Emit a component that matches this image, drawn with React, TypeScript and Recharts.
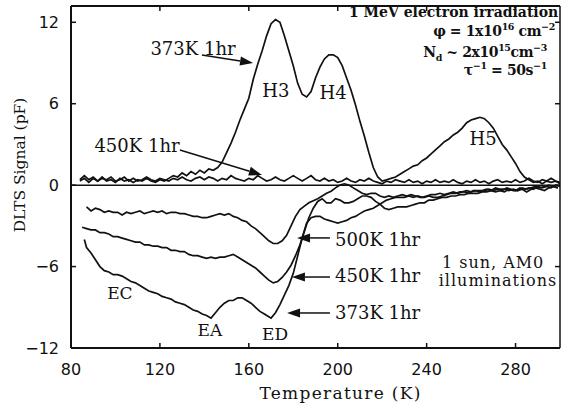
import { LineChart, Line, XAxis, YAxis, ReferenceLine, ReferenceDot, Label } from "recharts"

const xTicks = [80, 120, 160, 200, 240, 280]
const yTicks = [-12, -6, 0, 6, 12]

// after 1 MeV electron irradiation, hole traps H3 / H4 / H5 (T in K, signal in pF)
const hole373: [number, number][] = [
  [84, 0.3], [86, 0.5], [88, 0.2], [90, 0.5], [92, 0.3], [94, 0.6], [96, 0.3], [98, 0.4], [100, 0.2],
  [102, 0.5], [104, 0.3], [106, 0.4], [108, 0.2], [110, 0.4], [112, 0.3], [114, 0.5], [116, 0.3],
  [118, 0.2], [120, 0.4], [122, 0.3], [124, 0.5], [126, 0.7], [128, 0.6], [130, 0.9], [132, 0.7],
  [134, 1.0], [136, 0.8], [138, 1.1], [140, 0.9], [142, 1.2], [144, 1.1], [146, 1.3], [148, 1.7],
  [150, 2.4], [152, 3.1], [154, 3.9], [156, 4.8], [158, 5.6], [160, 6.4], [162, 7.8], [164, 8.9],
  [166, 9.9], [168, 11.0], [170, 11.9], [172, 12.2], [174, 12.0], [176, 11.0], [178, 9.9], [180, 8.8],
  [182, 7.5], [184, 6.7], [186, 6.5], [188, 6.9], [190, 7.9], [192, 8.7], [194, 9.3], [196, 9.6],
  [198, 9.6], [200, 9.4], [202, 8.8], [204, 7.9], [206, 7.0], [208, 5.9], [210, 4.7], [212, 3.6],
  [214, 2.4], [216, 1.3], [218, 0.6], [220, 0.3], [222, 0.4], [224, 0.5], [226, 0.6], [228, 0.8],
  [230, 1.0], [232, 1.2], [234, 1.4], [236, 1.5], [238, 1.8], [240, 2.0], [242, 2.3], [244, 2.6],
  [246, 2.9], [248, 3.2], [250, 3.4], [252, 3.7], [254, 3.9], [256, 4.2], [258, 4.6], [260, 4.8],
  [262, 4.9], [264, 5.0], [266, 4.9], [268, 4.6], [270, 4.2], [272, 3.6], [274, 3.0], [276, 2.6],
  [278, 2.1], [280, 1.6], [282, 1.0], [284, 0.6], [286, 0.4], [288, 0.2], [290, 0.3], [292, 0.1],
  [294, 0.3], [296, 0.2], [298, 0.3], [300, 0.1],
]

const hole450: [number, number][] = [
  [84, 0.4], [86, 0.7], [88, 0.4], [90, 0.6], [92, 0.3], [94, 0.5], [96, 0.4], [98, 0.6], [100, 0.3],
  [102, 0.4], [104, 0.6], [106, 0.3], [108, 0.5], [110, 0.3], [112, 0.4], [114, 0.6], [116, 0.4],
  [118, 0.3], [120, 0.5], [122, 0.4], [124, 0.3], [126, 0.5], [128, 0.4], [130, 0.6], [132, 0.4],
  [134, 0.3], [136, 0.5], [138, 0.6], [140, 0.4], [142, 0.6], [144, 0.5], [146, 0.3], [148, 0.5],
  [150, 0.4], [152, 0.7], [154, 0.5], [156, 0.4], [158, 0.3], [160, 0.5], [162, 0.4], [164, 0.7],
  [166, 0.5], [168, 0.3], [170, 0.4], [172, 0.6], [174, 0.4], [176, 0.3], [178, 0.5], [180, 0.7],
  [182, 0.5], [184, 0.3], [186, 0.5], [188, 0.7], [190, 0.4], [192, 0.3], [194, 0.5], [196, 0.3],
  [198, 0.4], [200, 0.2], [202, 0.3], [204, 0.5], [206, 0.3], [208, 0.2], [210, 0.4], [212, 0.3],
  [214, 0.5], [216, 0.3], [218, 0.2], [220, 0.1], [222, 0.3], [224, 0.2], [226, 0.4], [228, 0.3],
  [230, 0.2], [232, 0.4], [234, 0.2], [236, 0.3], [238, 0.1], [240, 0.3], [242, 0.2], [244, 0.4],
  [246, 0.2], [248, 0.3], [250, 0.2], [252, 0.4], [254, 0.2], [256, 0.1], [258, 0.3], [260, 0.2],
  [262, 0.4], [264, 0.2], [266, 0.3], [268, 0.1], [270, 0.3], [272, 0.4], [274, 0.2], [276, 0.3],
  [278, 0.2], [280, 0.4], [282, 0.2], [284, 0.3], [286, 0.5], [288, 0.3], [290, 0.2], [292, 0.4],
  [294, 0.3], [296, 0.5], [298, 0.3], [300, 0.2],
]

// under 1 sun AM0 illumination, electron traps EC / EA / ED
const elec500: [number, number][] = [
  [87, -1.6], [89, -1.9], [91, -1.7], [93, -1.8], [95, -2.0], [97, -1.9], [99, -2.0], [101, -2.0],
  [103, -2.2], [105, -2.0], [107, -2.1], [109, -2.0], [111, -1.9], [113, -2.1], [115, -2.0], [117, -1.9],
  [119, -2.0], [121, -1.9], [123, -2.1], [125, -2.0], [127, -2.0], [129, -2.1], [131, -2.1], [133, -2.2],
  [135, -2.3], [137, -2.3], [139, -2.4], [141, -2.4], [143, -2.3], [145, -2.2], [147, -2.1], [149, -2.2],
  [151, -2.1], [153, -2.3], [155, -2.4], [157, -2.6], [159, -2.7], [161, -3.0], [163, -3.2], [165, -3.5],
  [167, -3.8], [169, -4.1], [171, -4.3], [173, -4.3], [175, -4.1], [177, -3.7], [179, -3.0], [181, -2.3],
  [183, -1.8], [185, -1.55], [187, -1.3], [189, -1.15], [191, -1.0], [193, -0.8], [195, -0.6], [197, -0.45],
  [199, -0.2], [201, 0.0], [203, 0.1], [205, 0.0], [207, -0.2], [209, -0.4], [211, -0.6], [213, -0.7],
  [215, -0.6], [217, -0.6], [219, -0.8], [221, -0.9], [223, -0.8], [225, -0.9], [227, -0.8], [229, -0.7],
  [231, -0.8], [233, -0.7], [235, -0.8], [237, -0.9], [239, -0.9], [241, -0.8], [243, -0.9], [245, -0.9],
  [247, -0.8], [249, -0.7], [251, -0.6], [253, -0.6], [255, -0.5], [257, -0.5], [259, -0.6], [261, -0.4],
  [263, -0.4], [265, -0.4], [267, -0.3], [269, -0.4], [271, -0.2], [273, -0.3], [275, -0.3], [277, -0.4],
  [279, -0.3], [281, -0.4], [283, -0.2], [285, -0.3], [287, -0.2], [289, -0.1], [291, -0.2], [293, -0.1],
  [295, 0.0], [297, -0.1], [299, -0.2],
]

const elec450: [number, number][] = [
  [85, -3.1], [87, -3.2], [89, -3.3], [91, -3.3], [93, -3.5], [95, -3.5], [97, -3.6], [99, -3.8],
  [101, -3.8], [103, -3.9], [105, -4.0], [107, -4.1], [109, -4.2], [111, -4.2], [113, -4.4], [115, -4.4],
  [117, -4.5], [119, -4.5], [121, -4.6], [123, -4.6], [125, -4.8], [127, -4.8], [129, -4.9], [131, -4.9],
  [133, -5.1], [135, -5.2], [137, -5.2], [139, -5.3], [141, -5.4], [143, -5.3], [145, -5.4], [147, -5.3],
  [149, -5.3], [151, -5.2], [153, -5.1], [155, -5.3], [157, -5.5], [159, -5.7], [161, -5.9], [163, -6.1],
  [165, -6.4], [167, -6.7], [169, -7.0], [171, -7.2], [173, -7.1], [175, -6.8], [177, -6.4], [179, -5.9],
  [181, -5.2], [183, -4.4], [185, -3.4], [187, -2.4], [189, -1.7], [191, -1.2], [193, -1.0], [195, -1.3],
  [197, -1.3], [199, -1.0], [201, -1.1], [203, -1.3], [205, -1.3], [207, -1.2], [209, -1.0], [211, -0.8],
  [213, -0.8], [215, -0.9], [217, -1.2], [219, -1.4], [221, -1.7], [223, -1.8], [225, -1.7], [227, -1.6],
  [229, -1.6], [231, -1.6], [233, -1.5], [235, -1.4], [237, -1.3], [239, -1.3], [241, -1.1], [243, -1.1],
  [245, -1.0], [247, -0.9], [249, -0.9], [251, -0.8], [253, -0.8], [255, -0.7], [257, -0.7], [259, -0.6],
  [261, -0.6], [263, -0.6], [265, -0.5], [267, -0.5], [269, -0.4], [271, -0.5], [273, -0.4], [275, -0.5],
  [277, -0.3], [279, -0.4], [281, -0.4], [283, -0.3], [285, -0.5], [287, -0.3], [289, -0.2], [291, -0.3],
  [293, -0.4], [295, -0.2], [297, -0.1], [299, -0.2],
]

const elec373: [number, number][] = [
  [86, -4.0], [87, -4.6], [89, -5.0], [91, -5.5], [93, -6.0], [95, -6.3], [97, -6.4], [99, -6.6],
  [101, -6.6], [103, -6.7], [105, -6.9], [107, -7.1], [109, -7.2], [111, -7.4], [113, -7.6], [115, -7.8],
  [117, -7.9], [119, -8.0], [121, -8.2], [123, -8.3], [125, -8.4], [127, -8.6], [129, -8.7], [131, -8.8],
  [133, -9.0], [135, -9.2], [137, -9.3], [139, -9.5], [141, -9.6], [143, -9.8], [145, -9.4], [147, -9.0],
  [149, -8.7], [151, -8.5], [153, -8.5], [155, -8.3], [157, -8.3], [159, -8.5], [161, -8.7], [163, -9.0],
  [165, -9.3], [167, -9.5], [169, -9.7], [170, -9.8], [172, -9.4], [174, -8.8], [176, -8.1], [178, -7.4],
  [180, -6.5], [182, -5.2], [184, -3.9], [186, -2.8], [188, -2.4], [190, -2.3], [192, -2.3], [194, -2.5],
  [196, -2.6], [198, -2.7], [200, -2.8], [202, -2.7], [204, -2.6], [206, -2.4], [208, -2.3], [210, -2.1],
  [212, -1.9], [214, -1.8], [216, -1.7], [218, -1.5], [220, -1.3], [222, -1.1], [224, -1.0], [226, -0.9],
  [228, -0.9], [230, -0.9], [232, -0.8], [234, -0.9], [236, -0.8], [238, -0.9], [240, -0.8], [242, -0.7],
  [244, -0.7], [246, -0.6], [248, -0.7], [250, -0.6], [252, -0.5], [254, -0.6], [256, -0.5], [258, -0.4],
  [260, -0.5], [262, -0.4], [264, -0.5], [266, -0.4], [268, -0.3], [270, -0.4], [272, -0.3], [274, -0.4],
  [276, -0.2], [278, -0.3], [280, -0.4], [282, -0.2], [284, -0.3], [286, -0.2], [288, -0.3], [290, -0.1],
  [292, -0.2], [294, -0.1], [296, -0.2], [298, 0.0], [300, -0.1],
]

const allSeries = [
  { name: "373K 1hr", pts: hole373 },
  { name: "450K 1hr", pts: hole450 },
  { name: "500K 1hr illum", pts: elec500 },
  { name: "450K 1hr illum", pts: elec450 },
  { name: "373K 1hr illum", pts: elec373 },
]

// text labels placed in data coordinates
const notes = [
  { text: "373K 1hr", t: 134.9, v: 10.1, anchor: "middle", size: 18 },
  { text: "450K 1hr", t: 109.7, v: 2.9, anchor: "middle", size: 18 },
  { text: "H3", t: 172.2, v: 7.0, anchor: "middle", size: 18 },
  { text: "H4", t: 197.9, v: 6.86, anchor: "middle", size: 18 },
  { text: "H5", t: 265.4, v: 3.4, anchor: "middle", size: 18 },
  { text: "EC", t: 102, v: -7.95, anchor: "middle", size: 17 },
  { text: "EA", t: 142.5, v: -10.67, anchor: "middle", size: 17 },
  { text: "ED", t: 171.8, v: -10.97, anchor: "middle", size: 17 },
  { text: "500K 1hr", t: 198.8, v: -4.0, anchor: "start", size: 18 },
  { text: "450K 1hr", t: 198.8, v: -6.69, anchor: "start", size: 18 },
  { text: "373K 1hr", t: 198.8, v: -9.35, anchor: "start", size: 18 },
  { text: "1 sun, AM0", t: 269.9, v: -5.66, anchor: "middle", size: 16 },
  { text: "illuminations", t: 272.1, v: -6.99, anchor: "middle", size: 16 },
]

const arrows = [
  { from: [138.9, 9.59], to: [161.9, 9.0] },
  { from: [129.0, 2.59], to: [165.9, 0.75] },
  { from: [196.5, -3.89], to: [181.7, -3.89] },
  { from: [196.5, -6.77], to: [179.4, -6.77] },
  { from: [196.5, -9.42], to: [177.2, -9.42] },
]

type Seg = { s: string; k?: "sup" | "sub" }
const conditions: { segs: Seg[]; t: number; v: number }[] = [
  { segs: [{ s: "1 MeV electron irradiation" }], t: 299.2, v: 12.39 },
  { segs: [{ s: "φ = 1x10" }, { s: "16", k: "sup" }, { s: " cm" }, { s: "−2", k: "sup" }], t: 297.7, v: 10.99 },
  { segs: [{ s: "N" }, { s: "d", k: "sub" }, { s: " ~ 2x10" }, { s: "15", k: "sup" }, { s: "cm" }, { s: "−3", k: "sup" }], t: 294.1, v: 9.44 },
  { segs: [{ s: "τ" }, { s: "−1", k: "sup" }, { s: " = 50s" }, { s: "−1", k: "sup" }], t: 294.1, v: 8.12 },
]

const serif = "'DejaVu Serif', serif"
const sans = "'DejaVu Sans', sans-serif"
const ink = "#111"

// plot frame edges in px (margin top 6, x-axis height 56, y-axis width 71, margin right 3)
const frameTop = 6
const frameBottom = 348
const frameLeft = 71
const frameRight = 560
const tickLen = 5

const toRows = (pts: [number, number][]) => pts.map(([t, v]) => ({ t, v }))

function arrowShape(p: any) {
  const { x1, y1, x2, y2 } = p
  const a = Math.atan2(y2 - y1, x2 - x1)
  const len = 13
  const half = 4.5
  const bx = x2 - len * Math.cos(a)
  const by = y2 - len * Math.sin(a)
  const px = -Math.sin(a) * half
  const py = Math.cos(a) * half
  return (
    <g>
      <line x1={x1} y1={y1} x2={bx} y2={by} stroke={ink} strokeWidth={1.5} />
      <polygon points={`${x2},${y2} ${bx + px},${by + py} ${bx - px},${by - py}`} fill={ink} />
    </g>
  )
}

// tick label plus inward tick marks on both opposite frame edges
function xTick(p: any) {
  return (
    <g>
      <line x1={p.x} y1={frameBottom} x2={p.x} y2={frameBottom - tickLen} stroke={ink} strokeWidth={1.5} />
      <line x1={p.x} y1={frameTop} x2={p.x} y2={frameTop + tickLen} stroke={ink} strokeWidth={1.5} />
      <text x={p.x} y={p.y} dy="0.75em" textAnchor="middle" fill={ink} fontSize={16} fontFamily={sans}>
        {p.payload.value}
      </text>
    </g>
  )
}

function yTick(p: any) {
  const v = p.payload.value
  return (
    <g>
      <line x1={frameLeft} y1={p.y} x2={frameLeft + tickLen} y2={p.y} stroke={ink} strokeWidth={1.5} />
      <line x1={frameRight} y1={p.y} x2={frameRight - tickLen} y2={p.y} stroke={ink} strokeWidth={1.5} />
      <text x={p.x} y={p.y} dy="0.36em" textAnchor="end" fill={ink} fontSize={16} fontFamily={sans}>
        {v < 0 ? `−${-v}` : `${v}`}
      </text>
    </g>
  )
}

function segSpans(segs: Seg[]) {
  let shift = 0
  return segs.map((sg, i) => {
    const target = sg.k === "sup" ? -6 : sg.k === "sub" ? 4 : 0
    const dy = target - shift
    shift = target
    return (
      <tspan key={i} dy={dy} fontSize={sg.k ? 9.5 : 14}>
        {sg.s}
      </tspan>
    )
  })
}

export default function App() {
  return (
    <div style={{ position: "absolute", left: 0, top: 0, background: "#fff" }}>
      <LineChart width={563} height={404} margin={{ top: frameTop, right: 3, bottom: 0, left: 0 }}>
        <XAxis
          xAxisId="x"
          type="number"
          dataKey="t"
          domain={[80, 300]}
          ticks={xTicks}
          allowDataOverflow
          height={56}
          tickLine={false}
          tickSize={6}
          tickMargin={9}
          axisLine={{ stroke: ink, strokeWidth: 2 }}
          tick={xTick}
        >
          <Label
            content={(p: any) => {
              const vb = p.viewBox || { x: 71, y: 348, width: 489, height: 56 }
              return (
                <text
                  x={vb.x + vb.width / 2 + 25}
                  y={vb.y + 51}
                  textAnchor="middle"
                  fill={ink}
                  fontSize={17}
                  fontFamily={serif}
                  letterSpacing={1.3}
                >
                  Temperature (K)
                </text>
              )
            }}
          />
        </XAxis>
        <XAxis xAxisId="xt" type="number" domain={[80, 300]} allowDataOverflow orientation="top" mirror axisLine={{ stroke: ink, strokeWidth: 2 }} tickLine={false} tick={false} />

        <YAxis
          yAxisId="y"
          type="number"
          domain={[-12, 13.2]}
          ticks={yTicks}
          allowDataOverflow
          width={71}
          tickLine={false}
          tickSize={6}
          tickMargin={6}
          axisLine={{ stroke: ink, strokeWidth: 2 }}
          tick={yTick}
        >
          <Label
            content={(p: any) => {
              const vb = p.viewBox || { x: 0, y: 6, width: 71, height: 342 }
              const cy = vb.y + vb.height / 2 - 12
              return (
                <text
                  transform={`translate(25, ${cy}) rotate(-90)`}
                  textAnchor="middle"
                  fill={ink}
                  fontSize={15.5}
                  fontFamily={serif}
                >
                  DLTS Signal (pF)
                </text>
              )
            }}
          />
        </YAxis>
        <YAxis yAxisId="yr" type="number" domain={[-12, 13.2]} allowDataOverflow orientation="right" mirror axisLine={{ stroke: ink, strokeWidth: 1.5 }} tickLine={false} tick={false} />

        <ReferenceLine xAxisId="x" yAxisId="y" y={0} stroke={ink} strokeWidth={1.5} />

        {allSeries.map((s) => (
          <Line
            key={s.name}
            xAxisId="x"
            yAxisId="y"
            data={toRows(s.pts)}
            dataKey="v"
            name={s.name}
            type="linear"
            stroke={ink}
            strokeWidth={1.7}
            dot={false}
            activeDot={false}
            isAnimationActive={false}
          />
        ))}

        {arrows.map((a, i) => (
          <ReferenceLine
            key={`arrow-${i}`}
            xAxisId="x"
            yAxisId="y"
            segment={[
              { x: a.from[0], y: a.from[1] },
              { x: a.to[0], y: a.to[1] },
            ]}
            shape={arrowShape}
          />
        ))}

        {notes.map((n, i) => (
          <ReferenceDot
            key={`note-${i}`}
            xAxisId="x"
            yAxisId="y"
            x={n.t}
            y={n.v}
            r={1}
            shape={(p: any) => (
              <text
                x={p.cx}
                y={p.cy}
                dy="0.36em"
                textAnchor={n.anchor as any}
                fill={ink}
                fontSize={n.size}
                fontFamily={serif}
                letterSpacing={n.size === 16 ? 1 : 0}
              >
                {n.text}
              </text>
            )}
          />
        ))}

        {conditions.map((c, i) => (
          <ReferenceDot
            key={`cond-${i}`}
            xAxisId="x"
            yAxisId="y"
            x={c.t}
            y={c.v}
            r={1}
            shape={(p: any) => (
              <text x={p.cx} y={p.cy} dy={5} textAnchor="end" fill={ink} fontFamily={serif} fontWeight="bold" fontSize={14} letterSpacing={i === 0 ? 0 : -0.4}>
                {segSpans(c.segs)}
              </text>
            )}
          />
        ))}
      </LineChart>
    </div>
  )
}
